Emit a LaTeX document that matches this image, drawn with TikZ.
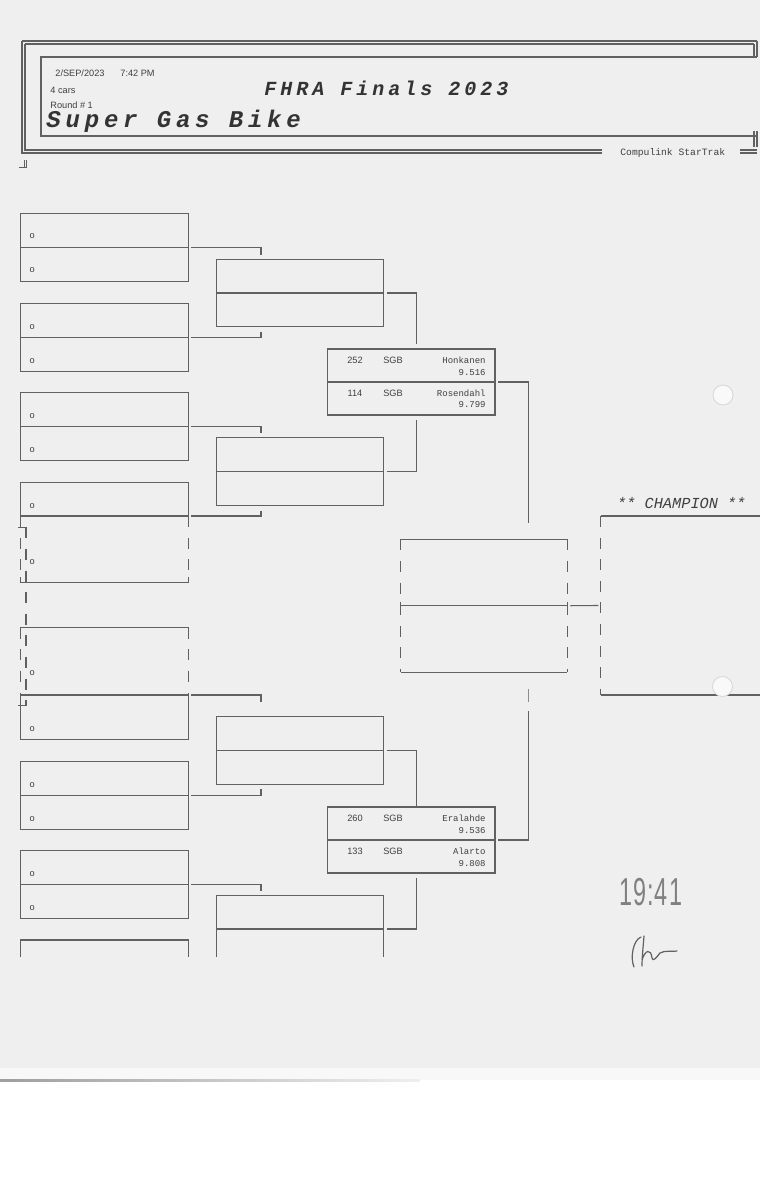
\documentclass[tikz,border=0pt]{standalone}
\usepackage{graphicx}
\usepackage{fontspec}
\setmainfont{Liberation Sans}
\newfontfamily\monof{Liberation Mono}
\newfontfamily\widemono[LetterSpace=20]{Liberation Mono}
\definecolor{lc}{HTML}{616161}
\definecolor{paper}{HTML}{EFEFEF}
\definecolor{tc}{HTML}{404040}
\tikzset{
  ln/.style={draw=lc, line width=0.55pt},
  dl/.style={ln, dash pattern=on 5.5pt off 5.3pt},
  rbox/.style={ln, rectangle, inner sep=0pt, outer sep=0pt, minimum width=83.8pt, minimum height=33.85pt},
  r2box/.style={rbox, minimum width=83.5pt, minimum height=33.7pt},
  r3box/.style={rbox, minimum width=83.85pt, minimum height=33pt},
  ghost/.style={rectangle, inner sep=0pt, outer sep=0pt},
  sm/.style={font=\fontsize{4.6}{5.5}\selectfont, text=tc, inner sep=0pt},
  mn/.style={font=\monof\fontsize{4.5}{5.5}\selectfont, text=tc, inner sep=0pt},
  hole/.style={circle, fill=white!60!paper, draw=black!16, line width=0.4pt, minimum size=10pt, inner sep=0pt},
}
\begin{document}
\begin{tikzpicture}[x=0.5pt,y=-0.5pt]
\useasboundingbox (0,0) rectangle (760,1200);
% paper
\fill[white] (0,0) rectangle (760,1200);
\fill[paper] (0,0) rectangle (760,1080);
\fill[white!55!paper] (0,1068) rectangle (760,1080);
\shade[left color=black!38, right color=paper] (0,1079.2) rectangle (420,1081.2);

% ---------- header frame ----------
\draw[ln] (22,41) -- (757,41);
\draw[ln] (25,44) -- (754,44);
\draw[ln] (22,41) -- (22,153) -- (602,153);
\draw[ln] (25,44) -- (25,150) -- (602,150);
\draw[ln] (757,41) -- (757,57);
\draw[ln] (754,44) -- (754,57);
\draw[ln] (757,57) -- (41,57) -- (41,136) -- (757,136);
\draw[ln] (754,131) -- (754,147);
\draw[ln] (757,131) -- (757,147);
\draw[ln] (740,150) -- (757,150);
\draw[ln] (740,153) -- (757,153);
\draw[ln, line width=0.5pt] (19,167) -- (26.5,167) (24,160) -- (24,167) (26.5,160) -- (26.5,167);

\node[sm, anchor=base west] (date) at (55,76) {2/SEP/2023};
\node[sm, anchor=base west] (time) at (120,76) {7:42 PM};
\node[sm, anchor=base west] (cars) at (50,93) {4 cars};
\node[sm, anchor=base west] (round) at (50,108) {Round \# 1};
\node[font=\widemono\bfseries\itshape\fontsize{10}{12}\selectfont, text=tc!80!black, inner sep=0pt, anchor=base west] (event) at (264,95) {FHRA Finals 2023};
\node[font=\widemono\bfseries\itshape\fontsize{12}{14}\selectfont, text=tc!80!black, inner sep=0pt, anchor=base west] (class) at (46,127) {Super Gas Bike};
\node[font=\monof\fontsize{4.85}{6}\selectfont, text=tc, inner sep=0pt, anchor=base west] (brand) at (620,155.5) {Compulink StarTrak};

% ---------- round 1 ----------
\node[rbox] (b1) at (104.5,247.2) {};
\node[rbox] (b2) at (104.5,337.5) {};
\node[rbox] (b3) at (104.5,426.7) {};
\node[rbox] (b6) at (104.5,795.5) {};
\node[rbox] (b7) at (104.5,884.5) {};
\foreach \b in {b1,b2,b3,b6,b7}{
  \draw[ln] (\b.west) -- (\b.east);
  \node[sm, anchor=base west] (\b-oa) at ([shift={(8.6,25.5)}]\b.north west) {o};
  \node[sm, anchor=base west] (\b-ob) at ([shift={(8.6,25.5)}]\b.west) {o};
}
% box 4 (upper half solid, lower half dashed sides)
\draw[ln] (20.7,516) -- (20.7,482.3) -- (188.3,482.3) -- (188.3,516);
\draw[ln] (20.7,516) -- (188.3,516);
\draw[dl] (20.7,516) -- (20.7,582.7);
\draw[dl] (188.3,516) -- (188.3,582.7);
\draw[ln] (20.7,577) -- (20.7,582.7) -- (188.3,582.7) -- (188.3,577);
\coordinate (b4m) at (188.3,516);
\node[sm, anchor=base west] (b4-oa) at (29.3,508) {o};
\node[sm, anchor=base west] (b4-ob) at (29.3,564) {o};
% box 5 (upper half dashed sides, lower half solid)
\draw[ln] (20.7,633) -- (20.7,627.7) -- (188.3,627.7) -- (188.3,633);
\draw[dl] (20.7,627.7) -- (20.7,695);
\draw[dl] (188.3,627.7) -- (188.3,695);
\draw[ln] (20.7,695) -- (188.3,695);
\draw[ln] (20.7,695) -- (20.7,739.3) -- (188.3,739.3) -- (188.3,695);
\coordinate (b5m) at (188.3,695);
\node[sm, anchor=base west] (b5-oa) at (29.3,675) {o};
\node[sm, anchor=base west] (b5-ob) at (29.3,731) {o};
% inner dashed bracket
\draw[ln] (18,527.3) -- (26,527.3);
\draw[dl] (26,527.3) -- (26,705.6);
\draw[ln] (18,705.6) -- (26,705.6);
% box 8 (cut off)
\draw[ln] (20.7,957) -- (20.7,940) -- (188.3,940) -- (188.3,957);

% ---------- round 2 ----------
\node[r2box] (c1) at (300.2,293) {};
\node[r2box] (c2) at (300.2,471.5) {};
\node[r2box] (c3) at (300.2,750.5) {};
\foreach \c in {c1,c2,c3}{ \draw[ln] (\c.west) -- (\c.east); }
\draw[ln] (216.7,957) -- (216.7,895.7) -- (383.7,895.7) -- (383.7,957);
\draw[ln] (216.7,929) -- (383.7,929);
\coordinate (c4m) at (383.7,929);

% ---------- round 3 ----------
\node[r3box] (d1) at (411.15,382) {};
\node[r3box] (d2) at (411.15,840) {};
\foreach \d in {d1,d2}{ \draw[ln] (\d.west) -- (\d.east); }
\node[sm, anchor=base] (d1-n1) at ([shift={(27.7,14.5)}]d1.north west) {252};
\node[sm, anchor=base] (d1-c1) at ([shift={(65.7,14.5)}]d1.north west) {SGB};
\node[mn, anchor=base east] (d1-r1) at ([shift={(-9,14.5)}]d1.north east) {Honkanen};
\node[mn, anchor=base east] (d1-t1) at ([shift={(-9,26)}]d1.north east) {9.516};
\node[sm, anchor=base] (d1-n2) at ([shift={(27.7,14.5)}]d1.west) {114};
\node[sm, anchor=base] (d1-c2) at ([shift={(65.7,14.5)}]d1.west) {SGB};
\node[mn, anchor=base east] (d1-r2) at ([shift={(-9,14.5)}]d1.east) {Rosendahl};
\node[mn, anchor=base east] (d1-t2) at ([shift={(-9,25)}]d1.east) {9.799};
\node[sm, anchor=base] (d2-n1) at ([shift={(27.7,14.5)}]d2.north west) {260};
\node[sm, anchor=base] (d2-c1) at ([shift={(65.7,14.5)}]d2.north west) {SGB};
\node[mn, anchor=base east] (d2-r1) at ([shift={(-9,14.5)}]d2.north east) {Eralahde};
\node[mn, anchor=base east] (d2-t1) at ([shift={(-9,26)}]d2.north east) {9.536};
\node[sm, anchor=base] (d2-n2) at ([shift={(27.7,14.5)}]d2.west) {133};
\node[sm, anchor=base] (d2-c2) at ([shift={(65.7,14.5)}]d2.west) {SGB};
\node[mn, anchor=base east] (d2-r2) at ([shift={(-9,14.5)}]d2.east) {Alarto};
\node[mn, anchor=base east] (d2-t2) at ([shift={(-9,26)}]d2.east) {9.808};

% ---------- final ----------
\node[ghost, minimum width=83.3pt, minimum height=66.35pt] (f) at (484,605.7) {};
\draw[ln] (f.north west) -- (f.north east);
\draw[ln] (f.south west) -- (f.south east);
\draw[ln] (f.west) -- (f.east);
\draw[dl] (f.north west) -- (f.south west);
\draw[dl] (f.north east) -- (f.south east);
\draw[ln] ([yshift=2pt]f.west) -- ([yshift=-2pt]f.west);
\draw[ln] ([yshift=2pt]f.east) -- ([yshift=-2pt]f.east);

% ---------- champion ----------
\node[ghost, anchor=north west, minimum width=79.65pt, minimum height=89.5pt] (ch) at (600.7,516) {};
\draw[ln] (ch.north east) -- (ch.north west);
\draw[dl] (ch.north west) -- (ch.south west);
\draw[ln] (ch.south west) -- (ch.south east);
\node[font=\monof\itshape\fontsize{7.65}{9}\selectfont, text=tc, inner sep=0pt, anchor=base] (chl) at ([shift={(1,-8)}]ch.north) {** CHAMPION **};

% ---------- connectors ----------
\coordinate (j1) at (261,255);
\coordinate (j2) at (261,332.3);
\coordinate (j3) at (261,433);
\coordinate (j4) at (261,510.7);
\coordinate (j5) at (261,701.7);
\coordinate (j6) at (261,789);
\coordinate (j7) at (261,891);
\coordinate (k1) at (416.7,344.3);
\coordinate (k2) at (416.7,420);
\coordinate (k3) at (416.7,806);
\coordinate (k4) at (416.7,878);
\coordinate (m1) at (528.3,523);
\coordinate (m2) at (528.3,689);
\coordinate (m2a) at (528.3,702);
\coordinate (m2b) at (528.3,710.7);
\draw[ln] ([xshift=1.5pt]b1.east) -| (j1);
\draw[ln] ([xshift=1.5pt]b2.east) -| (j2);
\draw[ln] ([xshift=1.5pt]b3.east) -| (j3);
\draw[ln] ([xshift=1.5pt]b4m) -| (j4);
\draw[ln] ([xshift=1.5pt]b5m) -| (j5);
\draw[ln] ([xshift=1.5pt]b6.east) -| (j6);
\draw[ln] ([xshift=1.5pt]b7.east) -| (j7);
\draw[ln] ([xshift=1.5pt]c1.east) -| (k1);
\draw[ln] ([xshift=1.5pt]c2.east) -| (k2);
\draw[ln] ([xshift=1.5pt]c3.east) -| (k3);
\draw[ln] ([xshift=1.5pt]c4m) -| (k4);
\draw[ln] ([xshift=1.5pt]d1.east) -| (m1);
\draw[ln] ([xshift=1.5pt]d2.east) -| (m2b);
\draw[ln, draw=lc!70!paper] (m2a) -- (m2);
\draw[ln] ([xshift=1.5pt]f.east) -- ([xshift=-1.2pt]ch.west);

% ---------- punch holes ----------
\node[hole] (hole1) at (723,395) {};
\node[hole] (hole2) at (722.5,686.5) {};

% ---------- handwriting ----------
\node[font=\fontsize{19.5}{21}\selectfont, text=black!50, inner sep=0pt, anchor=base west] (hw) at (619,905) {\scalebox{0.6}[1]{1\kern1pt9\kern0.5pt:\kern1pt4\kern1pt1}};
\draw[black!62, line width=0.6pt, line cap=round, line join=round]
  (641,937) .. controls (633,940) and (630,958) .. (634,967)
  (644,936) .. controls (643,948) and (642,958) .. (642,966)
  (642,960) .. controls (645,950) and (651,948) .. (652,958)
  .. controls (653,962) and (656,958) .. (660,953)
  .. controls (665,950) and (672,952) .. (677,951);
\end{tikzpicture}
\end{document}
